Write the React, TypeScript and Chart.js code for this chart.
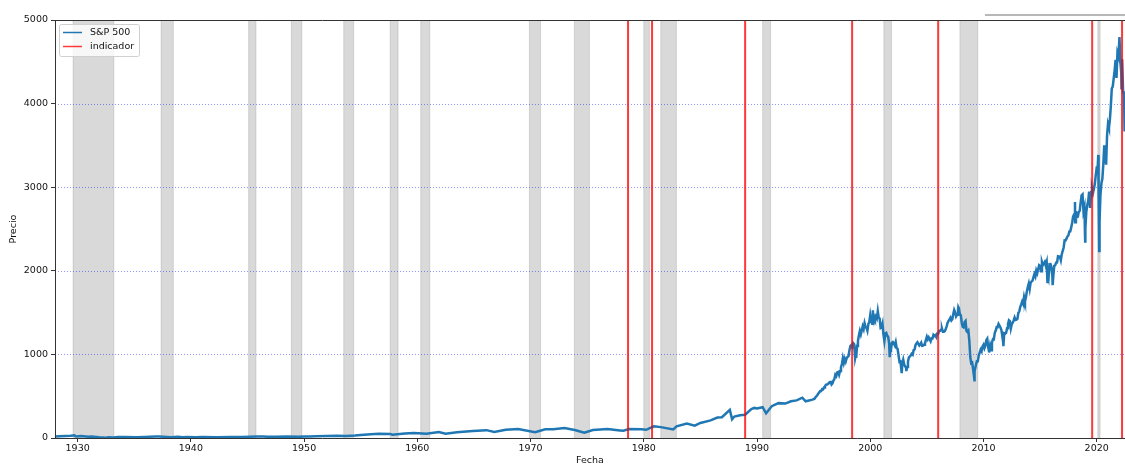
import React, { useEffect, useRef } from "react";
import { Chart, registerables } from "chart.js";

Chart.register(...registerables);

// S&P 500, sparse points 1928–1994 (decimal year, index level)
const earlyYears = [
  1928.0, 1928.4, 1928.9, 1929.4, 1929.7, 1929.87, 1930.3, 1930.95, 1931.2, 1931.9,
  1932.5, 1932.7, 1933.15, 1933.55, 1934.1, 1935.2, 1935.9, 1936.9, 1937.2, 1938.25,
  1938.85, 1939.3, 1939.7, 1940.4, 1941.0, 1942.3, 1943.5, 1944.5, 1945.9, 1946.4,
  1946.8, 1947.5, 1948.5, 1949.5, 1950.0, 1950.5, 1951.0, 1952.0, 1952.9, 1953.7,
  1954.5, 1955.0, 1955.9, 1956.6, 1957.6, 1957.8, 1958.9, 1959.7, 1960.8, 1961.9,
  1962.5, 1963.5, 1964.9, 1966.1, 1966.8, 1967.8, 1968.9, 1970.4, 1971.3, 1972.0,
  1973.0, 1973.9, 1974.75, 1975.5, 1976.8, 1977.9, 1978.2, 1978.7, 1979.8, 1980.2,
  1980.9, 1981.5, 1982.6, 1982.9, 1983.8, 1984.5, 1985.0, 1985.9, 1986.5, 1986.9,
  1987.6, 1987.8, 1988.0, 1988.5, 1988.95, 1989.5, 1989.75, 1990.0, 1990.5, 1990.8,
  1991.0, 1991.3, 1991.9, 1992.5, 1993.0, 1993.5, 1994.0, 1994.3, 1994.9,
];
const earlyPrices = [
  17.7, 20.0, 24.0, 26.0, 31.9, 17.7, 25.0, 14.8, 18.2, 8.1,
  4.4, 8.7, 5.5, 12.2, 11.8, 8.1, 13.4, 17.3, 18.7, 8.5,
  13.8, 10.2, 12.6, 8.9, 10.6, 7.5, 12.3, 13.1, 17.3, 19.2,
  14.1, 15.3, 17.0, 13.6, 16.8, 17.7, 21.7, 23.8, 26.6, 22.7,
  29.2, 36.0, 45.5, 49.7, 49.0, 38.9, 55.2, 60.7, 52.3, 72.6,
  52.3, 70.0, 84.8, 94.1, 73.2, 97.6, 108.4, 69.3, 104.6, 103.9,
  120.2, 95.9, 62.3, 95.6, 107.8, 90.7, 86.9, 106.9, 103.4, 98.2,
  140.5, 130.0, 102.4, 140.0, 172.7, 147.8, 179.6, 211.3, 245.0, 249.2,
  336.8, 224.8, 257.1, 272.0, 277.7, 346.0, 359.8, 353.4, 368.9, 295.5,
  330.2, 380.0, 417.1, 412.0, 438.8, 450.0, 481.6, 438.9, 459.3,
];

// Month-end closes from January 1995 to May 2022
const monthlyStartYear = 1995;
const monthlyCloses = [
  470, 487, 500, 515, 533, 545, 562, 562, 584, 582, 605, 616,
  636, 640, 645, 654, 669, 671, 639, 652, 687, 705, 757, 741,
  786, 791, 757, 801, 848, 885, 954, 899, 947, 915, 955, 970,
  980, 1049, 1102, 1112, 1091, 1134, 1121, 957, 1017, 1099, 1164, 1229,
  1280, 1238, 1286, 1335, 1302, 1373, 1329, 1320, 1283, 1363, 1389, 1469,
  1394, 1366, 1499, 1452, 1421, 1455, 1431, 1518, 1437, 1429, 1315, 1320,
  1366, 1240, 1160, 1249, 1256, 1224, 1211, 1134, 1041, 1060, 1139, 1148,
  1130, 1107, 1147, 1076, 1067, 990, 912, 916, 815, 886, 936, 880,
  856, 841, 848, 917, 964, 975, 990, 1008, 996, 1051, 1058, 1112,
  1131, 1145, 1126, 1107, 1121, 1141, 1102, 1104, 1115, 1130, 1174, 1212,
  1181, 1204, 1181, 1157, 1192, 1191, 1234, 1220, 1229, 1207, 1249, 1248,
  1280, 1281, 1295, 1311, 1270, 1270, 1277, 1304, 1336, 1378, 1401, 1418,
  1438, 1407, 1421, 1482, 1531, 1503, 1455, 1474, 1527, 1549, 1481, 1468,
  1379, 1331, 1323, 1386, 1400, 1280, 1267, 1283, 1166, 969, 896, 903,
  826, 735, 798, 873, 919, 919, 987, 1021, 1057, 1036, 1096, 1115,
  1074, 1104, 1169, 1187, 1089, 1031, 1102, 1049, 1141, 1183, 1181, 1258,
  1286, 1327, 1326, 1364, 1345, 1321, 1292, 1219, 1131, 1253, 1247, 1258,
  1312, 1366, 1408, 1398, 1310, 1362, 1379, 1407, 1441, 1412, 1416, 1426,
  1498, 1515, 1569, 1598, 1631, 1606, 1686, 1633, 1682, 1757, 1806, 1848,
  1783, 1859, 1872, 1884, 1924, 1960, 1931, 2003, 1972, 2018, 2068, 2059,
  1995, 2105, 2068, 2086, 2107, 2063, 2104, 1972, 1920, 2079, 2080, 2044,
  1940, 1932, 2060, 2065, 2097, 2099, 2174, 2171, 2168, 2126, 2199, 2239,
  2279, 2364, 2363, 2384, 2412, 2423, 2470, 2472, 2519, 2575, 2648, 2674,
  2824, 2714, 2641, 2648, 2705, 2718, 2816, 2902, 2914, 2712, 2760, 2507,
  2704, 2784, 2834, 2946, 2752, 2942, 2980, 2926, 2977, 3038, 3141, 3231,
  3226, 2954, 2585, 2912, 3044, 3100, 3271, 3500, 3363, 3270, 3622, 3756,
  3714, 3811, 3973, 4181, 4204, 4298, 4395, 4523, 4308, 4605, 4567, 4766,
  4516, 4374, 4530, 4132, 4132,
];

// Intra-month highs and lows
const swingYears = [
  1998.76, 2000.23, 2001.72, 2002.78, 2003.19, 2007.78, 2009.18, 2010.5, 2011.76,
  2015.65, 2016.11, 2018.1, 2018.98, 2020.14, 2020.22, 2022.01, 2022.19, 2022.44,
  2022.46, 2022.49,
];
const swingPrices = [
  959, 1527, 966, 777, 800, 1565, 677, 1022, 1099,
  1867, 1829, 2581, 2351, 3386, 2237, 4797, 4170, 4110,
  3666, 3790,
];

// NBER recessions (decimal years)
const recessionStart = [
  1929.6, 1937.37, 1945.1, 1948.87, 1953.5, 1957.6, 1960.3, 1969.9, 1973.87, 1980.0,
  1981.5, 1990.5, 2001.2, 2007.92, 2020.1,
];
const recessionEnd = [
  1933.2, 1938.45, 1945.75, 1949.8, 1954.38, 1958.3, 1961.1, 1970.88, 1975.2, 1980.5,
  1982.88, 1991.2, 2001.88, 2009.5, 2020.3,
];

// Dates flagged by the indicator
const indicatorYears = [1978.61, 1980.73, 1988.95, 1998.4, 2006.0, 2019.6, 2022.24];

const yearTicks = [1930, 1940, 1950, 1960, 1970, 1980, 1990, 2000, 2010, 2020];
const priceTicks = [0, 1000, 2000, 3000, 4000, 5000];
const gridPrices = [1000, 2000, 3000, 4000];

const FONT = "'DejaVu Sans', sans-serif";
const FONT_SIZE = 9.5;
const LINE_BLUE = "#1f77b4";
const RED = "rgba(255,0,0,0.78)";

function buildSeries() {
  const pts: { x: number; y: number }[] = [];
  earlyYears.forEach((x, i) => pts.push({ x, y: earlyPrices[i] }));
  monthlyCloses.forEach((v, i) =>
    pts.push({ x: monthlyStartYear + (i + 1) / 12, y: v })
  );
  swingYears.forEach((x, i) => pts.push({ x, y: swingPrices[i] }));
  pts.sort((a, b) => a.x - b.x);
  return pts;
}

const decorPlugin = {
  id: "decor",
  beforeDatasetsDraw(chart: any) {
    const { ctx, chartArea: a, scales } = chart;
    const x = scales.x;
    const y = scales.y;
    ctx.save();
    ctx.beginPath();
    ctx.rect(a.left, a.top, a.right - a.left, a.bottom - a.top);
    ctx.clip();
    // recession shading
    for (let i = 0; i < recessionStart.length; i++) {
      const x0 = x.getPixelForValue(recessionStart[i]);
      const x1 = x.getPixelForValue(recessionEnd[i]);
      ctx.fillStyle = "rgba(128,128,128,0.3)";
      ctx.fillRect(x0, a.top, x1 - x0, a.bottom - a.top);
      ctx.strokeStyle = "rgba(128,128,128,0.25)";
      ctx.lineWidth = 1;
      ctx.strokeRect(x0, a.top - 2, x1 - x0, a.bottom - a.top + 4);
    }
    // dotted horizontal grid
    ctx.strokeStyle = "rgba(0,0,255,0.6)";
    ctx.lineWidth = 0.7;
    ctx.setLineDash([1, 2]);
    for (const v of gridPrices) {
      const py = Math.round(y.getPixelForValue(v)) + 0.5;
      ctx.beginPath();
      ctx.moveTo(a.left, py);
      ctx.lineTo(a.right, py);
      ctx.stroke();
    }
    ctx.restore();
  },
  afterDatasetsDraw(chart: any) {
    const { ctx, chartArea: a, scales } = chart;
    const x = scales.x;
    ctx.save();
    // indicator lines
    ctx.strokeStyle = RED;
    ctx.lineWidth = 2;
    for (const v of indicatorYears) {
      const px = x.getPixelForValue(v);
      ctx.beginPath();
      ctx.moveTo(px, a.top);
      ctx.lineTo(px, a.bottom);
      ctx.stroke();
    }
    // spines
    ctx.strokeStyle = "#333";
    ctx.lineWidth = 1;
    ctx.beginPath();
    ctx.moveTo(a.left + 0.5, a.top);
    ctx.lineTo(a.left + 0.5, a.bottom);
    ctx.moveTo(a.left, a.bottom + 0.5);
    ctx.lineTo(a.right, a.bottom + 0.5);
    ctx.moveTo(a.left, a.top + 0.5);
    ctx.lineTo(a.right, a.top + 0.5);
    ctx.stroke();
    // thin rule above the plot on the right
    ctx.strokeStyle = "#a0a0a0";
    ctx.lineWidth = 1.5;
    ctx.beginPath();
    ctx.moveTo(985, 15);
    ctx.lineTo(a.right, 15);
    ctx.stroke();

    // legend
    const lx = 59.5;
    const ly = 24.5;
    ctx.fillStyle = "rgba(255,255,255,0.8)";
    ctx.strokeStyle = "#d0d0d0";
    ctx.lineWidth = 1;
    ctx.beginPath();
    (ctx as any).roundRect(lx, ly, 80, 32, 2);
    ctx.fill();
    ctx.stroke();
    const entries = [
      { label: "S&P 500", color: LINE_BLUE, y: 32.5 },
      { label: "indicador", color: RED, y: 46.5 },
    ];
    ctx.font = `${FONT_SIZE}px ${FONT}`;
    ctx.textBaseline = "middle";
    ctx.textAlign = "left";
    for (const e of entries) {
      ctx.strokeStyle = e.color;
      ctx.lineWidth = 1.5;
      ctx.beginPath();
      ctx.moveTo(63, e.y);
      ctx.lineTo(82, e.y);
      ctx.stroke();
      ctx.fillStyle = "#111";
      ctx.fillText(e.label, 90, e.y);
    }

    // axis titles
    ctx.fillStyle = "#111";
    ctx.textAlign = "center";
    ctx.textBaseline = "middle";
    ctx.fillText("Fecha", (a.left + a.right) / 2, 461);
    ctx.translate(14, (a.top + a.bottom) / 2);
    ctx.rotate(-Math.PI / 2);
    ctx.fillText("Precio", 0, 0);
    ctx.restore();
  },
};

export default function App() {
  const canvasRef = useRef<HTMLCanvasElement | null>(null);

  useEffect(() => {
    const canvas = canvasRef.current;
    if (!canvas) return;
    const chart = new Chart(canvas, {
      type: "line",
      data: {
        datasets: [
          {
            label: "S&P 500",
            data: buildSeries(),
            borderColor: LINE_BLUE,
            borderWidth: 2.5,
            pointRadius: 0,
            tension: 0,
            fill: false,
          },
        ],
      },
      options: {
        animation: false,
        responsive: false,
        maintainAspectRatio: false,
        parsing: false,
        layout: { padding: { top: 20, left: 0, right: 0, bottom: 0 } },
        plugins: { legend: { display: false }, tooltip: { enabled: false } },
        scales: {
          x: {
            type: "linear",
            min: 1928,
            max: 2022.5,
            afterBuildTicks: (s: any) => {
              s.ticks = yearTicks.map((v) => ({ value: v }));
            },
            afterFit: (s: any) => {
              s.height = 27;
            },
            ticks: {
              autoSkip: false,
              maxRotation: 0,
              padding: 1,
              color: "#111",
              font: { family: FONT, size: FONT_SIZE },
              callback: (v: any) => String(v),
            },
            grid: {
              drawOnChartArea: false,
              drawTicks: true,
              tickLength: 4,
              tickColor: "#333",
            },
            border: { display: false },
          },
          y: {
            type: "linear",
            min: 0,
            max: 5000,
            afterBuildTicks: (s: any) => {
              s.ticks = priceTicks.map((v) => ({ value: v }));
            },
            afterFit: (s: any) => {
              s.width = 55;
            },
            ticks: {
              padding: 3,
              color: "#111",
              font: { family: FONT, size: FONT_SIZE },
              callback: (v: any) => String(v),
            },
            grid: {
              drawOnChartArea: false,
              drawTicks: true,
              tickLength: 4,
              tickColor: "#333",
            },
            border: { display: false },
          },
        },
      },
      plugins: [decorPlugin],
    });
    return () => chart.destroy();
  }, []);

  return (
    <div style={{ position: "absolute", left: 0, top: 0, width: 1125, height: 465, background: "#fff" }}>
      <canvas ref={canvasRef} width={1125} height={465} style={{ display: "block" }} />
    </div>
  );
}
